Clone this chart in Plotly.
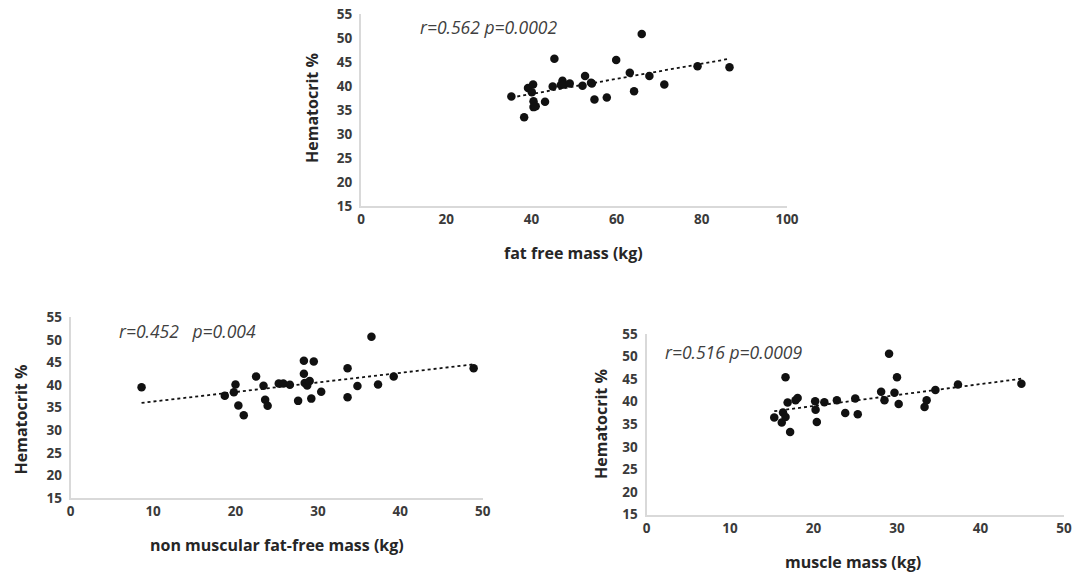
import numpy as np
import plotly.graph_objects as go

W, H = 1074, 574

# Data: fat free mass vs hematocrit
ffm_x = [35.3, 38.3, 39.2, 40.4, 40.1, 40.5, 40.5, 41.0, 43.2, 45.0, 45.4, 46.9, 47.3, 47.6, 49.0,
         52.0, 52.6, 54.0, 54.2, 54.8, 57.7, 59.9, 63.1, 64.1, 65.9, 67.7, 71.2, 79.0, 86.5]
ffm_y = [37.8, 33.5, 39.6, 40.3, 38.7, 36.8, 35.6, 35.8, 36.7, 39.9, 45.7, 40.2, 41.1, 40.3, 40.5,
         40.05, 42.1, 40.7, 40.5, 37.2, 37.6, 45.4, 42.75, 38.9, 50.85, 42.1, 40.3, 44.1, 43.9]

# Data: non muscular fat-free mass vs hematocrit
nm_x = [8.6, 18.7, 19.8, 20.0, 20.35, 21.0, 22.5, 23.4, 23.6, 23.9, 25.25, 25.8, 26.6, 27.6, 28.3,
        28.3, 28.4, 28.7, 29.0, 29.2, 29.5, 30.4, 33.6, 33.6, 34.8, 36.5, 37.3, 39.2, 48.9]
nm_y = [39.5, 37.66, 38.4, 40.1, 35.5, 33.3, 41.9, 39.85, 36.75, 35.4, 40.35, 40.35, 40.05, 36.5, 45.4,
        42.5, 40.45, 39.9, 40.9, 37.0, 45.2, 38.5, 43.7, 37.3, 39.8, 50.7, 40.1, 41.9, 43.7]

# Data: muscle mass vs hematocrit
mm_x = [15.3, 16.2, 16.35, 16.65, 16.65, 16.9, 17.2, 17.85, 18.1, 20.2, 20.25, 20.4, 21.3, 22.8,
        23.8, 25.0, 25.3, 28.1, 28.5, 29.05, 29.7, 30.0, 30.2, 33.3, 33.55, 34.6, 37.3, 44.9]
mm_y = [36.5, 35.4, 37.6, 36.6, 45.4, 39.8, 33.3, 40.3, 40.8, 40.1, 38.2, 35.5, 39.9, 40.3,
        37.5, 40.7, 37.2, 42.2, 40.3, 50.6, 42.0, 45.4, 39.5, 38.8, 40.3, 42.6, 43.8, 44.0]

y_ticks = [15, 20, 25, 30, 35, 40, 45, 50, 55]

panels = [
    dict(x=ffm_x, y=ffm_y, xr=[0, 100], xt=[0, 20, 40, 60, 80, 100],
         px=(361, 787), py=(206, 14), label="r=0.562 p=0.0002", lab=(418, 27),
         xtitle="fat free mass (kg)", xt_pos=(573, 253), ytitle_pos=(312, 108)),
    dict(x=nm_x, y=nm_y, xr=[0, 50], xt=[0, 10, 20, 30, 40, 50],
         px=(70.7, 482.7), py=(498, 317.3), label="r=0.452   p=0.004", lab=(117, 331),
         xtitle="non muscular fat-free mass (kg)", xt_pos=(277, 545), ytitle_pos=(20.5, 420)),
    dict(x=mm_x, y=mm_y, xr=[0, 50], xt=[0, 10, 20, 30, 40, 50],
         px=(646.5, 1064), py=(514.5, 334), label="r=0.516 p=0.0009", lab=(663, 352),
         xtitle="muscle mass (kg)", xt_pos=(853, 562), ytitle_pos=(601, 424)),
]

fig = go.Figure()
tick_font = dict(family="Open Sans", size=13.5, color="#3a3a3a", weight="bold")
annotations = []

for i, p in enumerate(panels):
    n = "" if i == 0 else str(i + 1)
    xa, ya = "x" + n, "y" + n
    fig.add_trace(go.Scatter(x=p["x"], y=p["y"], mode="markers", xaxis=xa, yaxis=ya,
                             marker=dict(color="#111111", size=8.5), showlegend=False))
    xs = np.array(p["x"]); ys = np.array(p["y"])
    k, b = np.polyfit(xs, ys, 1)
    lx = np.array([xs.min(), xs.max()])
    fig.add_trace(go.Scatter(x=lx, y=k * lx + b, mode="lines", xaxis=xa, yaxis=ya,
                             line=dict(color="#111111", width=1.8, dash="dot"), showlegend=False))
    axis_common = dict(showgrid=False, zeroline=False, ticks="", tickfont=tick_font,
                       automargin=False, showline=True, linecolor="#d9d9d9", linewidth=2)
    fig.update_layout(**{
        "xaxis" + n: dict(domain=[p["px"][0] / W, p["px"][1] / W], range=p["xr"], tickvals=p["xt"],
                          anchor=ya, **axis_common),
        "yaxis" + n: dict(domain=[1 - p["py"][0] / H, 1 - p["py"][1] / H], range=[15, 55],
                          tickvals=y_ticks, anchor=xa, ticklabelstandoff=4, **axis_common),
    })
    annotations.append(dict(text=p["label"], x=p["lab"][0] / W, y=1 - p["lab"][1] / H,
                            xref="paper", yref="paper", xanchor="left", yanchor="middle",
                            showarrow=False,
                            font=dict(family="Open Sans", size=17.5, color="#404040", style="italic")))
    annotations.append(dict(text="<b>" + p["xtitle"] + "</b>", x=p["xt_pos"][0] / W,
                            y=1 - p["xt_pos"][1] / H, xref="paper", yref="paper",
                            xanchor="center", yanchor="middle", showarrow=False,
                            font=dict(family="Open Sans", size=16, color="#262626")))
    annotations.append(dict(text="<b>Hematocrit %</b>", x=p["ytitle_pos"][0] / W,
                            y=1 - p["ytitle_pos"][1] / H, xref="paper", yref="paper",
                            xanchor="center", yanchor="middle", showarrow=False, textangle=-90,
                            font=dict(family="Open Sans", size=16, color="#262626")))

fig.update_layout(width=W, height=H, margin=dict(l=0, r=0, t=0, b=0),
                  paper_bgcolor="white", plot_bgcolor="white", annotations=annotations,
                  font=dict(family="Open Sans"))

fig.write_html("out.html", config={"displayModeBar": False},
               post_script="document.body.style.margin='0';document.body.style.overflow='hidden';")
